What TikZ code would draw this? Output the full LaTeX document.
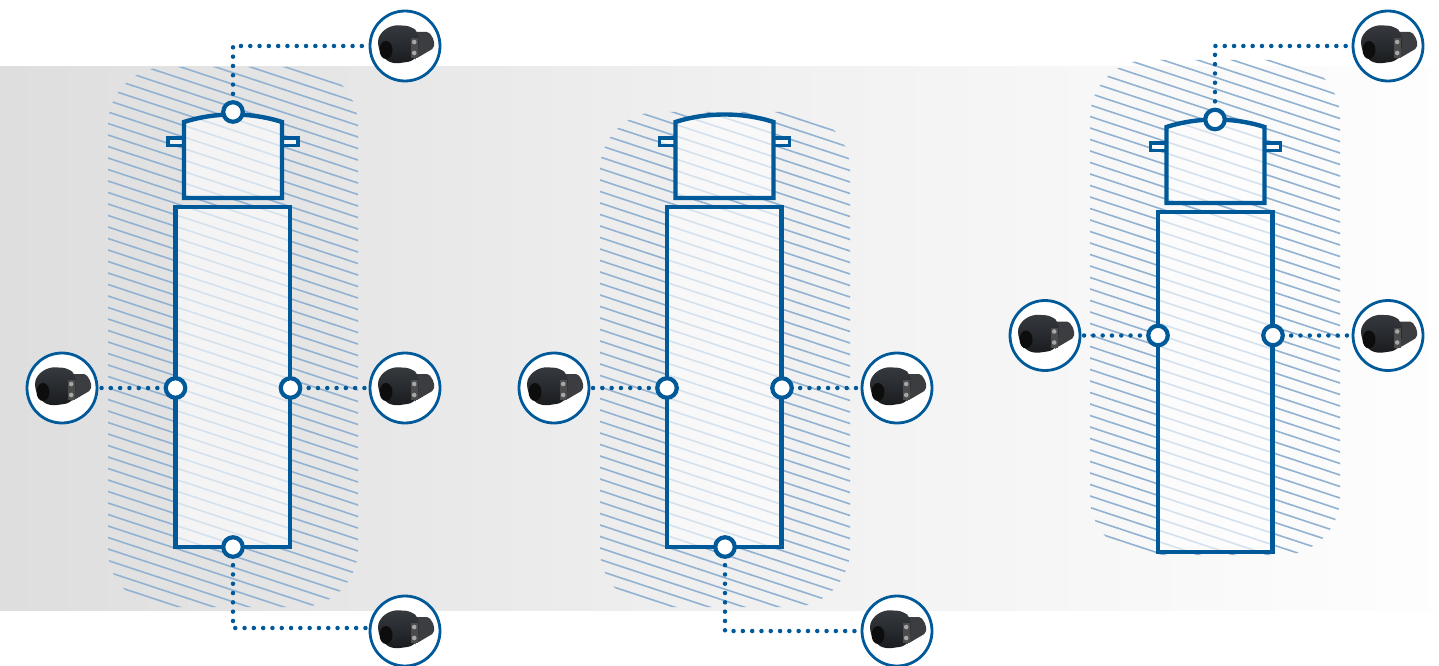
\documentclass[tikz,border=0pt]{standalone}
\usetikzlibrary{calc}
\definecolor{tblue}{HTML}{005A9A}
\definecolor{hblue}{HTML}{92B2D2}
\definecolor{ctop}{HTML}{363A3F}
\definecolor{cbot}{HTML}{191B1E}
\tikzset{
  x=1pt,y=-1pt,
  hatchline/.style={hblue,line width=1.6pt},
  outline/.style={draw=tblue,line width=4.4pt,fill=white,fill opacity=.62,line join=miter},
  mirrorbox/.style={draw=tblue,line width=3.8pt,fill=white,fill opacity=.62},
  sensor/.style={circle,draw=tblue,line width=4.2pt,fill=white,inner sep=0pt,minimum size=19.5pt},
  camring/.style={circle,draw=tblue,line width=2.8pt,fill=white,inner sep=0pt,minimum size=70pt},
  dotline/.style={draw=tblue,line width=4.5pt,line cap=round,dash pattern=on 0pt off 9.3pt,dash phase=3pt},
}
% hatched zone: left, top, right, bottom
\newcommand{\hatchzone}[4]{%
  \begin{scope}
    \clip[rounded corners=58pt] (#1,#2) rectangle (#3,#4);
    \foreach \k in {-14,...,60}{
      \draw[hatchline] (#1-5,#2+68+\k*11.5-1.65) -- (#3+5,#2+68+\k*11.5+84.15);
    }
  \end{scope}}
% truck outline at an offset
\newcommand{\truckbody}[2]{%
  \begin{scope}[shift={(#1,#2)}]
    \draw[mirrorbox] (168,138) rectangle (184,145.5);
    \draw[mirrorbox] (282,138) rectangle (298,145.5);
    \draw[outline] (184,198) -- (184,122) .. controls (215,112) and (251,112) .. (282,122) -- (282,198) -- cycle;
    \draw[outline] (175.5,207) rectangle (290,547);
  \end{scope}}
% camera picture at a node
\newcommand{\camera}[1]{%
  \begin{scope}[shift={(#1)}]
    \fill[cbot!85!white,rounded corners=2pt] (10,-14) -- (24,-14) -- (29,-6) -- (29,2) -- (12,12) -- cycle;
    \shade[top color=ctop,bottom color=cbot,rounded corners=6pt]
      (-25,-13) -- (-13,-21) -- (6,-20) -- (14,-13) -- (13,8) -- (9,15) -- (-12,18) -- (-22,12) -- (-28,-2) -- cycle;
    \fill[black!95] (-19,4) ellipse (6.5pt and 9pt);
    \fill[black!70] (6,-8) rectangle (12.5,12);
    \foreach \yy in {-4,7}{\fill[black!35] (9.2,\yy) circle (2.3pt);}
  \end{scope}}
\begin{document}
\begin{tikzpicture}
\useasboundingbox (0,0) rectangle (1439,666);
\fill[white] (0,0) rectangle (1439,666);
\shade[left color=black!13,right color=black!.5,middle color=black!6] (0,67) rectangle (1439,610);
\hatchzone{108}{67}{358}{607}
\hatchzone{600}{112}{850}{607}
\hatchzone{1090}{60}{1340}{555}
\truckbody{0}{0}
\truckbody{491.5}{0}
\truckbody{982.5}{5}
% sensors
\node[sensor] (a1) at (233,112) {};
\node[sensor] (a2) at (175.5,388) {};
\node[sensor] (a3) at (290.5,388) {};
\node[sensor] (a4) at (233,547) {};
\node[sensor] (b2) at (667,388) {};
\node[sensor] (b3) at (782,388) {};
\node[sensor] (b4) at (725,547) {};
\node[sensor] (c1) at (1215,119.5) {};
\node[sensor] (c2) at (1158,335.5) {};
\node[sensor] (c3) at (1273,335.5) {};
% camera circles
\node[camring] (ca1) at (405,46) {};
\node[camring] (ca2) at (62,388) {};
\node[camring] (ca3) at (405,388) {};
\node[camring] (ca4) at (405,631) {};
\node[camring] (cb2) at (554,388) {};
\node[camring] (cb3) at (897,388) {};
\node[camring] (cb4) at (897,631) {};
\node[camring] (cc1) at (1388,46) {};
\node[camring] (cc2) at (1045,335.5) {};
\node[camring] (cc3) at (1388,335.5) {};
\foreach \n in {ca1,ca2,ca3,ca4,cb2,cb3,cb4,cc1,cc2,cc3}{\camera{\n}}
% connectors
\draw[dotline] (a1) |- (ca1);
\draw[dotline] (a2) -- (ca2);
\draw[dotline] (a3) -- (ca3);
\draw[dotline] (a4) |- ([yshift=3pt]ca4.west);
\draw[dotline] (b2) -- (cb2);
\draw[dotline] (b3) -- (cb3);
\draw[dotline] (b4) |- (cb4);
\draw[dotline] (c1) |- (cc1);
\draw[dotline] (c2) -- (cc2);
\draw[dotline] (c3) -- (cc3);
\end{tikzpicture}
\end{document}
